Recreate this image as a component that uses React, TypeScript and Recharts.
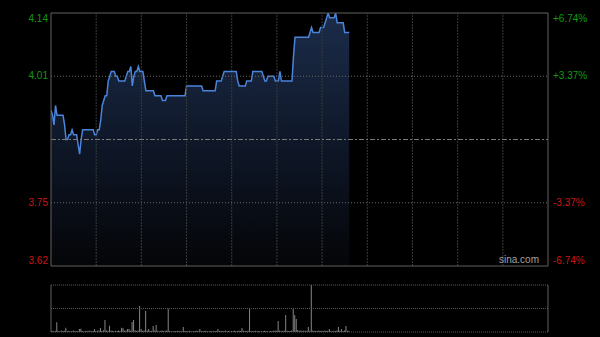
import React from "react";
import {
  ComposedChart,
  Area,
  XAxis,
  YAxis,
  ReferenceLine,
  BarChart,
  Bar,
} from "recharts";

// ---- data ----
const prevClose = 3.88;
const priceTicks = [4.14, 4.01, 3.75, 3.62];
const pctLabels = ["+6.74%", "+3.37%", "-3.37%", "-6.74%"];
const gridMinutes = [30, 60, 90, 120, 150, 180, 210, 240, 270, 300];
const totalMinutes = 330;

// one price per minute, from the open
const prices = [
  3.94, 3.93, 3.91, 3.95, 3.93, 3.93, 3.93, 3.93, 3.93, 3.91,
  3.88, 3.88, 3.89, 3.89, 3.9, 3.89, 3.89, 3.89, 3.87, 3.85,
  3.88, 3.9, 3.9, 3.9, 3.9, 3.9, 3.9, 3.9, 3.9, 3.89,
  3.89, 3.9, 3.9, 3.92, 3.95, 3.96, 3.97, 3.97, 4.0, 4.01,
  4.02, 4.02, 4.02, 4.01, 4.01, 4.0, 4.0, 4.0, 4.0, 4.0,
  4.01, 4.02, 4.02, 4.03, 3.99, 4.01, 4.02, 4.02, 4.03, 4.02,
  4.02, 4.02, 4.0, 3.98, 3.98, 3.98, 3.98, 3.98, 3.98, 3.97,
  3.97, 3.97, 3.97, 3.97, 3.96, 3.96, 3.96, 3.97, 3.97, 3.97,
  3.97, 3.97, 3.97, 3.97, 3.97, 3.97, 3.97, 3.97, 3.97, 3.97,
  3.99, 3.99, 3.99, 3.99, 3.99, 3.99, 3.99, 3.99, 3.99, 3.99,
  3.99, 3.98, 3.98, 3.98, 3.98, 3.98, 3.98, 3.98, 3.98, 3.98,
  4.0, 4.0, 4.0, 4.0, 4.01, 4.02, 4.02, 4.02, 4.02, 4.02,
  4.02, 4.02, 4.02, 4.02, 4.0, 3.99, 3.99, 3.99, 3.99, 3.99,
  4.0, 4.0, 4.0, 4.0, 4.02, 4.02, 4.02, 4.02, 4.02, 4.02,
  4.02, 4.01, 4.0, 4.0, 4.01, 4.01, 4.01, 4.01, 4.01, 4.0,
  4.0, 4.0, 4.02, 4.0, 4.0, 4.0, 4.0, 4.0, 4.0, 4.0,
  4.0, 4.05, 4.09, 4.09, 4.09, 4.09, 4.09, 4.09, 4.09, 4.09,
  4.09, 4.09, 4.1, 4.11, 4.1, 4.1, 4.1, 4.1, 4.1, 4.11,
  4.11, 4.11, 4.12, 4.13, 4.14, 4.13, 4.13, 4.13, 4.13, 4.14,
  4.12, 4.12, 4.12, 4.12, 4.12, 4.1, 4.1, 4.1, 4.1,
];

// one volume per minute (relative units)
const volumes = [
  15, 10, 8, 12, 97, 10, 6, 14, 9, 12,
  43, 8, 12, 6, 10, 15, 9, 7, 11, 30,
  33, 10, 6, 9, 12, 8, 14, 7, 10, 30,
  9, 12, 15, 40, 10, 18, 120, 14, 12, 63,
  15, 10, 8, 12, 9, 14, 10, 43, 37, 12,
  15, 30, 30, 12, 100, 120, 18, 10, 14, 260,
  30, 12, 15, 210, 14, 30, 10, 12, 60, 15,
  70, 12, 8, 10, 15, 9, 12, 14, 233, 10,
  8, 6, 10, 7, 12, 9, 8, 10, 50, 11,
  9, 7, 12, 8, 6, 10, 9, 12, 8, 30,
  10, 7, 9, 12, 8, 6, 10, 7, 9, 11,
  8, 30, 10, 12, 7, 9, 14, 8, 10, 6,
  9, 7, 12, 8, 10, 14, 9, 40, 12, 10,
  8, 12, 233, 10, 7, 9, 12, 8, 10, 6,
  9, 7, 12, 10, 8, 6, 10, 9, 12, 14,
  12, 110, 15, 10, 9, 14, 170, 12, 10, 9,
  15, 230, 170, 130, 20, 12, 15, 10, 14, 12,
  10, 50, 12, 470, 14, 10, 12, 9, 15, 10,
  12, 10, 14, 9, 12, 30, 10, 8, 12, 9,
  14, 50, 12, 30, 10, 15, 60, 12, 10,
];
const volumeMax = 470;

const priceData = prices.map((p, i) => ({ m: i, p }));
const volumeData = volumes.map((v, i) => ({ m: i, v }));

const GREEN = "#119a11";
const RED = "#cc1414";
const FONT = "'Liberation Sans', Arial, sans-serif";

const tickShift = (v: number) => (v === priceTicks[0] ? 5.5 : v === priceTicks[priceTicks.length - 1] ? -6 : -0.5);

const LeftTick = (props: any) => {
  const { x, y, payload } = props;
  const v = payload.value as number;
  return (
    <text
      x={x}
      y={y + tickShift(v) + 3.6}
      textAnchor="end"
      fill={v > prevClose ? GREEN : RED}
      fontSize={10}
      fontFamily={FONT}
    >
      {v.toFixed(2)}
    </text>
  );
};

const RightTick = (props: any) => {
  const { x, y, payload } = props;
  const v = payload.value as number;
  const idx = priceTicks.indexOf(v);
  return (
    <text
      x={x}
      y={y + tickShift(v) + 3.6}
      textAnchor="start"
      fill={v > prevClose ? GREEN : RED}
      fontSize={10}
      fontFamily={FONT}
    >
      {idx >= 0 ? pctLabels[idx] : ""}
    </text>
  );
};

const BORDER = "#606060";

export default function App() {
  return (
    <div
      style={{
        position: "fixed",
        left: 0,
        top: 0,
        width: 600,
        height: 337,
        background: "#000",
        overflow: "hidden",
      }}
    >
      <div style={{ position: "absolute", left: 0, top: 0 }}>
        <ComposedChart
          width={600}
          height={270}
          data={priceData}
          margin={{ top: 13, right: 0, bottom: 4, left: 0 }}
        >
          <defs>
            <linearGradient id="areaFill" x1="0" y1="0" x2="0" y2="1">
              <stop offset="0%" stopColor="#1b2c4a" />
              <stop offset="55%" stopColor="#0e1626" />
              <stop offset="100%" stopColor="#040507" />
            </linearGradient>
          </defs>
          <XAxis
            dataKey="m"
            type="number"
            domain={[0, totalMinutes]}
            hide
            allowDataOverflow
          />
          <YAxis
            yAxisId="l"
            orientation="left"
            width={51}
            domain={[priceTicks[priceTicks.length - 1], priceTicks[0]]}
            ticks={priceTicks}
            interval={0}
            axisLine={false}
            tickLine={false}
            tickSize={0}
            tickMargin={3}
            tick={<LeftTick />}
            allowDataOverflow
          />
          <YAxis
            yAxisId="r"
            orientation="right"
            width={52}
            domain={[priceTicks[priceTicks.length - 1], priceTicks[0]]}
            ticks={priceTicks}
            interval={0}
            axisLine={false}
            tickLine={false}
            tickSize={0}
            tickMargin={5}
            tick={<RightTick />}
            allowDataOverflow
          />
          {gridMinutes.map((g) => (
            <ReferenceLine
              key={"v" + g}
              yAxisId="l"
              x={g}
              stroke="#3a3a3a"
              strokeDasharray="2 1"
            />
          ))}
          <Area
            yAxisId="l"
            type="linear"
            dataKey="p"
            stroke="#4a84da"
            strokeWidth={1.5}
            fill="url(#areaFill)"
            fillOpacity={1}
            isAnimationActive={false}
            dot={false}
            activeDot={false}
          />
          <ReferenceLine yAxisId="l" y={priceTicks[1]} stroke="#6a6a6a" strokeDasharray="1 2" />
          <ReferenceLine yAxisId="l" y={priceTicks[2]} stroke="#6a6a6a" strokeDasharray="1 2" />
          <ReferenceLine yAxisId="l" y={prevClose} stroke="#7a7a7a" strokeDasharray="5 2 2 2" />
          <ReferenceLine yAxisId="l" y={priceTicks[0]} stroke={BORDER} />
          <ReferenceLine yAxisId="l" y={priceTicks[priceTicks.length - 1]} stroke={BORDER} />
          <ReferenceLine yAxisId="l" x={0} stroke={BORDER} />
          <ReferenceLine yAxisId="l" x={totalMinutes} stroke={BORDER} />
        </ComposedChart>
      </div>
      <div
        style={{
          position: "absolute",
          left: 499,
          top: 255,
          fontFamily: FONT,
          fontSize: 10,
          lineHeight: "10px",
          color: "#a0a0a0",
        }}
      >
        sina.com
      </div>
      <div style={{ position: "absolute", left: 0, top: 270 }}>
        <BarChart
          width={600}
          height={67}
          data={volumeData}
          margin={{ top: 15, right: 52, bottom: 5, left: 51 }}
          barCategoryGap={0}
        >
          <XAxis
            dataKey="m"
            type="number"
            domain={[0, totalMinutes]}
            hide
            allowDataOverflow
          />
          <YAxis domain={[0, volumeMax]} hide allowDataOverflow />
          <Bar
            dataKey="v"
            fill="#858585"
            barSize={1}
            isAnimationActive={false}
          />
          <ReferenceLine y={volumeMax} stroke="#5a5a5a" strokeDasharray="1 1" />
          <ReferenceLine y={volumeMax / 2} stroke="#5a5a5a" strokeDasharray="1 1" />
          <ReferenceLine y={0} stroke="#5a5a5a" strokeDasharray="1 1" />
          <ReferenceLine x={0} stroke={BORDER} />
          <ReferenceLine x={totalMinutes} stroke={BORDER} />
        </BarChart>
      </div>
    </div>
  );
}
